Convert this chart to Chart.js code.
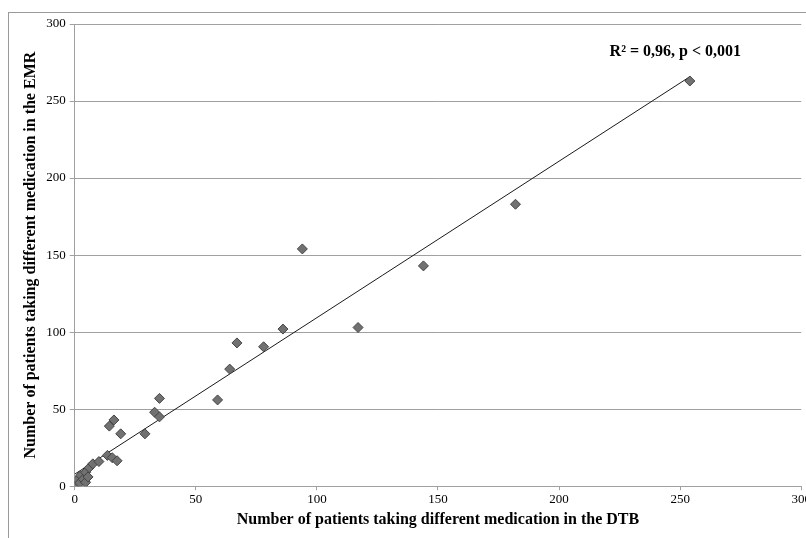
<!DOCTYPE html>
<html>
<head>
<meta charset="utf-8">
<script src="https://cdn.jsdelivr.net/npm/chart.js@4.4.0/dist/chart.umd.min.js"></script>
<style>
  html, body { margin: 0; padding: 0; background: #fff; overflow: hidden; }
  #frame { position: absolute; left: 8px; top: 12px; width: 840px; height: 560px;
           border-left: 1px solid #9a9a9a; border-top: 1px solid #9a9a9a; }
  #wrap { position: absolute; left: 0; top: 0; width: 813px; height: 538px; }
</style>
</head>
<body>
<div id="frame"></div>
<div id="wrap"><canvas id="scatterChart"></canvas></div>
<script>
// number of patients: DTB (x) vs EMR (y)
const dtbCounts = [0.5, 1, 2, 2.5, 3.5, 4.5, 4.5, 5.5, 6, 7.5, 10, 13.5, 15.5, 17.5,
  14.3, 16.2, 19, 29, 33, 35, 35, 59, 64, 67, 78, 86, 94, 117, 144, 182, 254];
const emrCounts = [1, 4, 2, 7, 4.5, 2.5, 9, 6, 12, 14.5, 16, 20, 18.5, 16.5,
  39, 43, 34, 34, 48, 45, 57, 56, 76, 93, 90.5, 102, 154, 103, 143, 183, 263];
const trendX = [0, 254];
const trendY = [7.8, 265.8];
const xTicks = [0, 50, 100, 150, 200, 250, 300];
const yTicks = [0, 50, 100, 150, 200, 250, 300];
const statLabel = 'R² = 0,96, p < 0,001';

const serif = "'Liberation Serif', 'Times New Roman', serif";

const statText = {
  id: 'statText',
  afterDatasetsDraw(chart) {
    const { ctx, scales } = chart;
    ctx.save();
    ctx.font = 'bold 16px ' + serif;
    ctx.fillStyle = '#000';
    ctx.textAlign = 'center';
    ctx.textBaseline = 'middle';
    ctx.fillText(statLabel, scales.x.getPixelForValue(248), scales.y.getPixelForValue(282));
    ctx.restore();
  }
};

const ctx = document.getElementById('scatterChart').getContext('2d');
new Chart(ctx, {
  type: 'scatter',
  data: {
    datasets: [{
      data: dtbCounts.map((x, i) => ({ x: x, y: emrCounts[i] })),
      pointStyle: 'rectRot',
      pointRadius: 5,
      pointHoverRadius: 5,
      backgroundColor: '#717171',
      borderColor: '#444444',
      borderWidth: 1,
      order: 1
    }, {
      type: 'line',
      data: trendX.map((x, i) => ({ x: x, y: trendY[i] })),
      borderColor: '#1a1a1a',
      borderWidth: 1,
      pointRadius: 0,
      fill: false,
      order: 2
    }]
  },
  options: {
    responsive: true,
    maintainAspectRatio: false,
    animation: false,
    layout: { padding: { top: 24, left: 21, right: 0, bottom: 9 } },
    plugins: { legend: { display: false }, tooltip: { enabled: false } },
    scales: {
      x: {
        type: 'linear',
        min: 0, max: 300,
        afterBuildTicks: axis => { axis.ticks = xTicks.map(v => ({ value: v })); },
        grid: { drawOnChartArea: false, drawTicks: true, tickLength: 4, color: '#a0a0a0' },
        border: { color: '#a0a0a0' },
        ticks: { color: '#000', font: { family: serif, size: 13 }, padding: 2, maxRotation: 0 },
        title: {
          display: true,
          text: 'Number of patients taking different medication in the DTB',
          color: '#000',
          font: { family: serif, size: 16, weight: 'bold' },
          padding: { top: 0, bottom: 0 }
        }
      },
      y: {
        type: 'linear',
        min: 0, max: 300,
        afterBuildTicks: axis => { axis.ticks = yTicks.map(v => ({ value: v })); },
        grid: { color: '#a0a0a0', drawTicks: true, tickLength: 5 },
        border: { color: '#a0a0a0' },
        ticks: { color: '#000', font: { family: serif, size: 13 }, padding: 4 },
        title: {
          display: true,
          text: 'Number of patients taking different medication in the EMR',
          color: '#000',
          font: { family: serif, size: 16, weight: 'bold' },
          padding: { top: 0, bottom: 2 }
        }
      }
    }
  },
  plugins: [statText]
});
</script>
</body>
</html>
